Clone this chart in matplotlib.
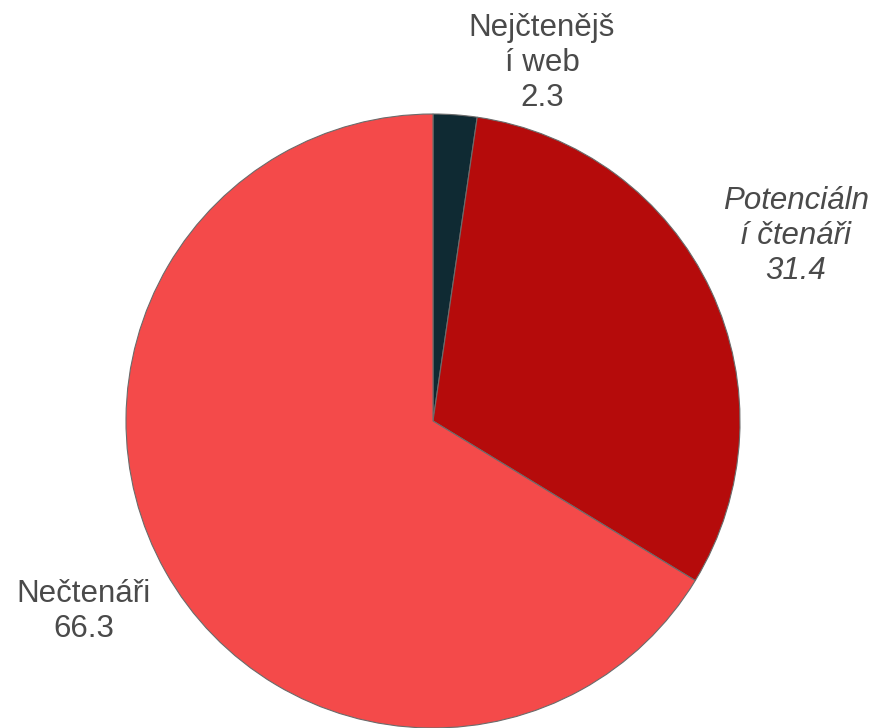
import matplotlib.pyplot as plt

plt.rcParams['font.family'] = ['Liberation Sans', 'DejaVu Sans']

names = ['Nejčtenější web', 'Potenciální čtenáři', 'Nečtenáři']
values = [2.3, 31.4, 66.3]
colors = ['#0f2a33', '#b50b0b', '#f44a4a']
label_pos = [(0.355, 1.165), (1.182, 0.603), (-1.137, -0.622)]
italic = [False, True, False]


def wrap(name, width=10):
    # hard break like the web chart does
    if len(name) <= width:
        return name
    return name[:width] + '\n' + name[width:]


fig = plt.figure(figsize=(8.77, 7.28), dpi=100)
ax = fig.add_axes([0, 0, 1, 1])

r_px = 307.0
cx, cy = 433.0, 421.0

ax.pie(values, colors=colors, startangle=90, counterclock=False,
       radius=1.0, center=(0, 0), frame=True,
       wedgeprops=dict(edgecolor='#6b6b6b', linewidth=0.8))
ax.set_xlim(-cx / r_px, (877 - cx) / r_px)
ax.set_ylim(-(728 - cy) / r_px, cy / r_px)
ax.set_aspect('auto')
ax.axis('off')

for name, v, (x, y), it in zip(names, values, label_pos, italic):
    ax.text(x, y, wrap(name) + '\n' + f'{v:.1f}', ha='center', va='center',
            fontsize=22.5, color='#4a4a4a', linespacing=1.22,
            style='italic' if it else 'normal')

fig.savefig('out.png', dpi=100)
